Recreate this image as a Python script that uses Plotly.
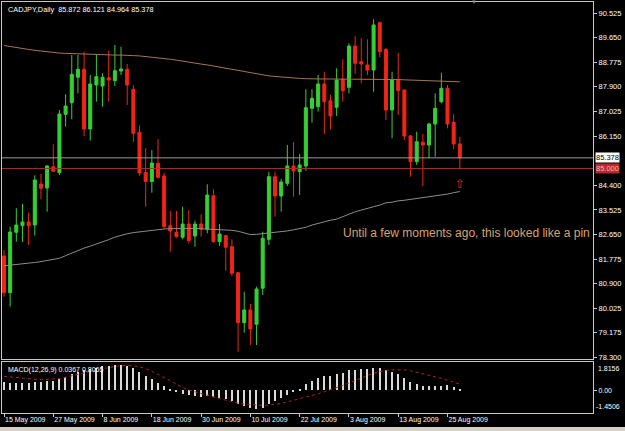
import plotly.graph_objects as go

# ---------------- data ----------------
dates_lbl = ["15 May 2009", "27 May 2009", "8 Jun 2009", "18 Jun 2009", "30 Jun 2009",
             "10 Jul 2009", "22 Jul 2009", "3 Aug 2009", "13 Aug 2009", "25 Aug 2009"]
date_lbl_bars = [0, 8, 16, 24, 32, 40, 48, 56, 64, 72]

opens = [81.890, 80.585, 82.732, 82.966, 83.098, 82.991, 84.448, 84.306, 85.063, 84.850,
         86.925, 87.337, 88.240, 88.524, 86.403, 87.966, 87.931, 88.226, 88.119, 88.464,
         88.524, 87.814, 86.285, 84.857, 84.537, 85.184, 84.732, 82.966, 82.732, 82.554,
         83.027, 82.600, 83.027, 82.838, 84.032, 82.398, 82.611, 82.220, 81.296, 79.519,
         79.971, 79.462, 80.742, 82.483, 84.708, 84.022, 84.473, 85.088, 84.885, 85.088,
         87.138, 87.195, 88.002, 87.408, 87.174, 88.169, 87.885, 89.352, 88.794, 88.677,
         88.499, 90.180, 89.235, 87.078, 88.144, 87.789, 86.154, 85.241, 85.930, 85.834,
         86.580, 87.373, 87.849, 86.641, 85.872]
highs = [82.103, 82.931, 83.585, 83.738, 83.428, 84.757, 84.804, 85.124, 85.859, 87.078,
         87.636, 89.032, 89.032, 89.150, 88.322, 89.057, 88.382, 89.185, 89.388, 89.327,
         88.713, 87.966, 86.527, 85.727, 85.656, 86.040, 84.850, 83.489, 83.489, 83.642,
         83.524, 83.144, 83.372, 84.437, 84.260, 83.027, 82.636, 82.483, 81.332, 80.621,
         80.184, 80.799, 82.753, 84.885, 84.885, 84.633, 85.834, 85.941, 85.514, 87.814,
         87.814, 88.322, 88.439, 87.611, 88.560, 88.880, 89.448, 89.708, 89.626, 89.590,
         90.301, 90.216, 89.271, 88.439, 89.114, 87.814, 86.190, 86.307, 86.225, 86.627,
         87.671, 88.403, 87.966, 86.936, 86.121]
lows = [80.443, 80.088, 82.398, 82.387, 82.281, 82.611, 83.904, 83.464, 84.885, 84.768,
        86.485, 86.747, 87.671, 86.154, 85.987, 87.373, 87.195, 87.373, 87.931, 88.322,
        87.256, 85.941, 84.750, 83.642, 84.139, 84.626, 82.874, 82.042, 82.540, 82.483,
        82.341, 82.220, 82.575, 82.696, 82.362, 82.245, 81.367, 81.179, 78.488, 79.163,
        78.726, 78.726, 80.504, 82.281, 83.286, 83.464, 84.377, 83.997, 84.057, 84.921,
        86.627, 87.018, 86.225, 86.392, 86.865, 87.373, 87.671, 88.357, 88.027, 88.322,
        87.728, 88.951, 86.722, 86.072, 86.900, 86.012, 84.708, 85.124, 84.377, 85.362,
        85.418, 87.316, 86.428, 85.681, 84.964]
closes = [80.585, 82.742, 82.991, 83.098, 82.966, 84.590, 84.295, 85.088, 84.900, 86.936,
          87.220, 88.347, 88.524, 86.403, 88.002, 88.261, 88.240, 88.144, 88.475, 88.535,
          87.966, 86.250, 84.839, 84.537, 85.194, 84.687, 82.931, 82.778, 82.575, 83.027,
          82.433, 83.027, 82.838, 84.057, 82.398, 82.671, 82.199, 81.275, 79.519, 79.971,
          79.295, 80.717, 82.519, 84.708, 84.022, 84.519, 85.088, 84.910, 85.124, 87.160,
          87.494, 88.002, 87.373, 86.865, 88.144, 87.764, 89.352, 88.738, 88.713, 88.499,
          90.099, 89.150, 87.078, 88.144, 87.764, 86.154, 85.241, 85.951, 85.834, 86.580,
          87.138, 87.849, 86.580, 85.870, 85.378]

ma_slow = [89.37, 89.33, 89.29, 89.26, 89.23, 89.20, 89.17, 89.14, 89.11, 89.10,
           89.09, 89.08, 89.07, 89.06, 89.05, 89.05, 89.04, 89.04, 89.03, 89.03,
           89.03, 89.01, 89.00, 88.98, 88.96, 88.93, 88.91, 88.88, 88.85, 88.81,
           88.78, 88.74, 88.71, 88.68, 88.64, 88.61, 88.58, 88.53, 88.49, 88.45,
           88.41, 88.37, 88.33, 88.29, 88.27, 88.25, 88.22, 88.21, 88.20, 88.19,
           88.18, 88.18, 88.18, 88.18, 88.18, 88.18, 88.18, 88.18, 88.18, 88.17,
           88.17, 88.17, 88.17, 88.16, 88.16, 88.15, 88.14, 88.13, 88.12, 88.12,
           88.11, 88.11, 88.10, 88.09, 88.08]
ma_fast = [81.54, 81.56, 81.58, 81.60, 81.63, 81.66, 81.69, 81.73, 81.77, 81.81,
           81.90, 81.99, 82.09, 82.17, 82.24, 82.31, 82.39, 82.47, 82.56, 82.63,
           82.68, 82.72, 82.75, 82.78, 82.81, 82.83, 82.85, 82.86, 82.87, 82.87,
           82.87, 82.87, 82.86, 82.85, 82.84, 82.84, 82.82, 82.80, 82.77, 82.71,
           82.65, 82.66, 82.68, 82.70, 82.72, 82.75, 82.78, 82.82, 82.86, 82.91,
           82.99, 83.05, 83.12, 83.16, 83.20, 83.29, 83.38, 83.46, 83.52, 83.59,
           83.64, 83.70, 83.78, 83.80, 83.85, 83.87, 83.90, 83.93, 83.95, 83.98,
           84.01, 84.04, 84.09, 84.14, 84.18]

macd_main = [0.52, 0.50, 0.50, 0.48, 0.47, 0.52, 0.53, 0.58, 0.60, 0.72,
             0.85, 1.05, 1.20, 1.28, 1.36, 1.46, 1.53, 1.56, 1.60, 1.61,
             1.57, 1.45, 1.20, 0.95, 0.75, 0.50, 0.25, 0.04, -0.12, -0.22,
             -0.30, -0.35, -0.40, -0.35, -0.42, -0.48, -0.55, -0.65, -0.88, -1.02,
             -1.16, -1.22, -1.12, -0.85, -0.68, -0.52, -0.32, -0.12, 0.10, 0.38,
             0.60, 0.80, 0.90, 0.95, 1.05, 1.12, 1.28, 1.32, 1.35, 1.36,
             1.45, 1.42, 1.30, 1.20, 1.05, 0.80, 0.55, 0.43, 0.28, 0.26,
             0.26, 0.27, 0.32, 0.21, 0.04]
macd_signal = [0.90, 0.87, 0.84, 0.81, 0.77, 0.72, 0.68, 0.70, 0.72, 0.75,
               0.84, 0.94, 1.03, 1.12, 1.21, 1.30, 1.39, 1.46, 1.53, 1.58,
               1.60, 1.58, 1.50, 1.39, 1.22, 1.03, 0.83, 0.62, 0.40, 0.18,
               0.02, -0.08, -0.18, -0.30, -0.42, -0.53, -0.64, -0.75, -0.82, -0.88,
               -0.92, -0.95, -0.96, -0.95, -0.90, -0.84, -0.74, -0.64, -0.55, -0.45,
               -0.33, -0.22, -0.09, 0.03, 0.15, 0.31, 0.47, 0.63, 0.80, 0.96,
               1.10, 1.20, 1.28, 1.31, 1.32, 1.31, 1.25, 1.16, 1.07, 0.98,
               0.88, 0.77, 0.65, 0.53, 0.40]

price_ticks = [90.525, 89.650, 88.775, 87.900, 87.025, 86.150, 84.400, 83.525,
               82.650, 81.775, 80.900, 80.025, 79.175, 78.300]
bid_price = 85.378
hline_price = 85.000
arrow_price = 84.45
macd_max, macd_min = 1.8156, -1.4506
title_txt = "CADJPY,Daily\u00a0\u00a085.872 86.121 84.964 85.378"
macd_txt = "MACD(12,26,9) 0.0367 0.8065"
note_txt = "Until a few moments ago, this looked like a pin"
note_price = 82.71

bars = list(range(len(opens)))
x_range = [-0.325, 95.62]
FONT = "Liberation Sans"

fig = go.Figure()
fig.add_trace(go.Scatter(x=bars, y=ma_slow, mode="lines", line=dict(color="#a87452", width=1),
                         xaxis="x", yaxis="y", hoverinfo="skip"))
fig.add_trace(go.Scatter(x=bars, y=ma_fast, mode="lines", line=dict(color="#8c8c8c", width=1),
                         xaxis="x", yaxis="y", hoverinfo="skip"))
fig.add_trace(go.Candlestick(
    x=bars, open=opens, high=highs, low=lows, close=closes, xaxis="x", yaxis="y",
    increasing=dict(fillcolor="#34d034", line=dict(color="#34d034", width=1)),
    decreasing=dict(fillcolor="#f02418", line=dict(color="#f02418", width=1)),
    hoverinfo="skip"))
fig.add_trace(go.Bar(x=bars, y=macd_main, width=0.2, marker=dict(color="#d8d8d8", line=dict(width=0)),
                     xaxis="x2", yaxis="y2", hoverinfo="skip"))
fig.add_trace(go.Scatter(x=bars, y=macd_signal, mode="lines",
                         line=dict(color="#b02020", width=1, dash="dot"),
                         xaxis="x2", yaxis="y2", hoverinfo="skip"))

frame = "#c8c8c8"
fig.update_layout(
    width=625, height=431, showlegend=False,
    margin=dict(l=2, r=32, t=2, b=18, autoexpand=False),
    paper_bgcolor="black", plot_bgcolor="black",
    font=dict(family=FONT, color="white", size=8),
    xaxis=dict(domain=[0, 1], anchor="y", range=x_range, showticklabels=False, showgrid=False,
               zeroline=False, showline=True, mirror=True, linecolor=frame, linewidth=1,
               rangeslider=dict(visible=False), ticks="", automargin=False),
    yaxis=dict(domain=[0.1314, 1], anchor="x", range=[78.229, 90.916], side="right",
               tickvals=price_ticks, ticktext=[f"{v:.3f}" for v in price_ticks],
               ticks="outside", ticklen=3, tickcolor=frame, tickfont=dict(size=7.5, color="white"),
               showgrid=False, zeroline=False, showline=True, mirror=True, linecolor=frame,
               automargin=False),
    xaxis2=dict(domain=[0, 1], anchor="y2", range=x_range, tickvals=date_lbl_bars, ticktext=dates_lbl,
                ticks="outside", ticklen=3, tickcolor=frame, ticklabelposition="outside right",
                tickangle=0, tickfont=dict(size=7, color="white"), showgrid=False, zeroline=False,
                showline=True, mirror=True, linecolor=frame, automargin=False),
    yaxis2=dict(domain=[0, 0.1241], anchor="x2", range=[macd_min, macd_max], side="right",
                tickvals=[0], ticktext=["0.00"], ticks="outside", ticklen=3, tickcolor=frame,
                tickfont=dict(size=7, color="white"), showgrid=False, zeroline=False,
                showline=True, mirror=True, linecolor=frame, automargin=False),
    bargap=0,
)

# horizontal lines
fig.add_shape(type="line", xref="x domain", yref="y", x0=0, x1=1, y0=bid_price, y1=bid_price,
              line=dict(color="#9a9a9a", width=1))
fig.add_shape(type="line", xref="x domain", yref="y", x0=0, x1=1, y0=hline_price, y1=hline_price,
              line=dict(color="#c81e1e", width=1))
# window bottom strip
fig.add_shape(type="rect", xref="paper", yref="paper", x0=-0.01, x1=1.06, y0=-0.045, y1=-0.034,
              fillcolor="#d4d0c8", line=dict(width=0), layer="above")

ann = []
ann.append(dict(text=title_txt, xref="paper", yref="paper", x=0.007, y=1, xanchor="left", yanchor="top",
                yshift=-1, showarrow=False, font=dict(size=7.3, color="white")))
ann.append(dict(text=macd_txt, xref="paper", yref="y2 domain", x=0.007, y=1, xanchor="left",
                yanchor="top", yshift=-2, showarrow=False, font=dict(size=7, color="white")))
ann.append(dict(text=f"{bid_price:.3f}", xref="paper", yref="y", x=1, y=bid_price, xanchor="left",
                xshift=2, showarrow=False, bgcolor="white", borderpad=0,
                font=dict(size=7.5, color="black")))
ann.append(dict(text=f"{hline_price:.3f}", xref="paper", yref="y", x=1, y=hline_price, xanchor="left",
                xshift=2, showarrow=False, bgcolor="#b82a2a", borderpad=0,
                font=dict(size=7.5, color="#f0b8b8")))
ann.append(dict(text=f"{macd_max:.4f}", xref="paper", yref="y2", x=1, y=macd_max, xanchor="left",
                yanchor="top", xshift=3, yshift=-1, showarrow=False, font=dict(size=7, color="white")))
ann.append(dict(text=f"{macd_min:.4f}", xref="paper", yref="y2", x=1, y=macd_min, xanchor="left",
                yanchor="bottom", xshift=1, yshift=1, showarrow=False, font=dict(size=7, color="white")))
ann.append(dict(text="\u21e7", xref="x", yref="y", x=bars[-1], y=arrow_price, showarrow=False,
                font=dict(size=12, color="#e03020", family="DejaVu Sans")))
ann.append(dict(text=note_txt, xref="paper", yref="y", x=0.5736, y=note_price, xanchor="left",
                yanchor="middle", showarrow=False, font=dict(size=12, color="#d8a468", family=FONT)))
ann.append(dict(text="\u25bc", xref="x", yref="paper", x=76.3, y=1, yanchor="middle", showarrow=False,
                font=dict(size=6, color="#909090")))
fig.update_layout(annotations=ann)

fig.write_html("out.html")
